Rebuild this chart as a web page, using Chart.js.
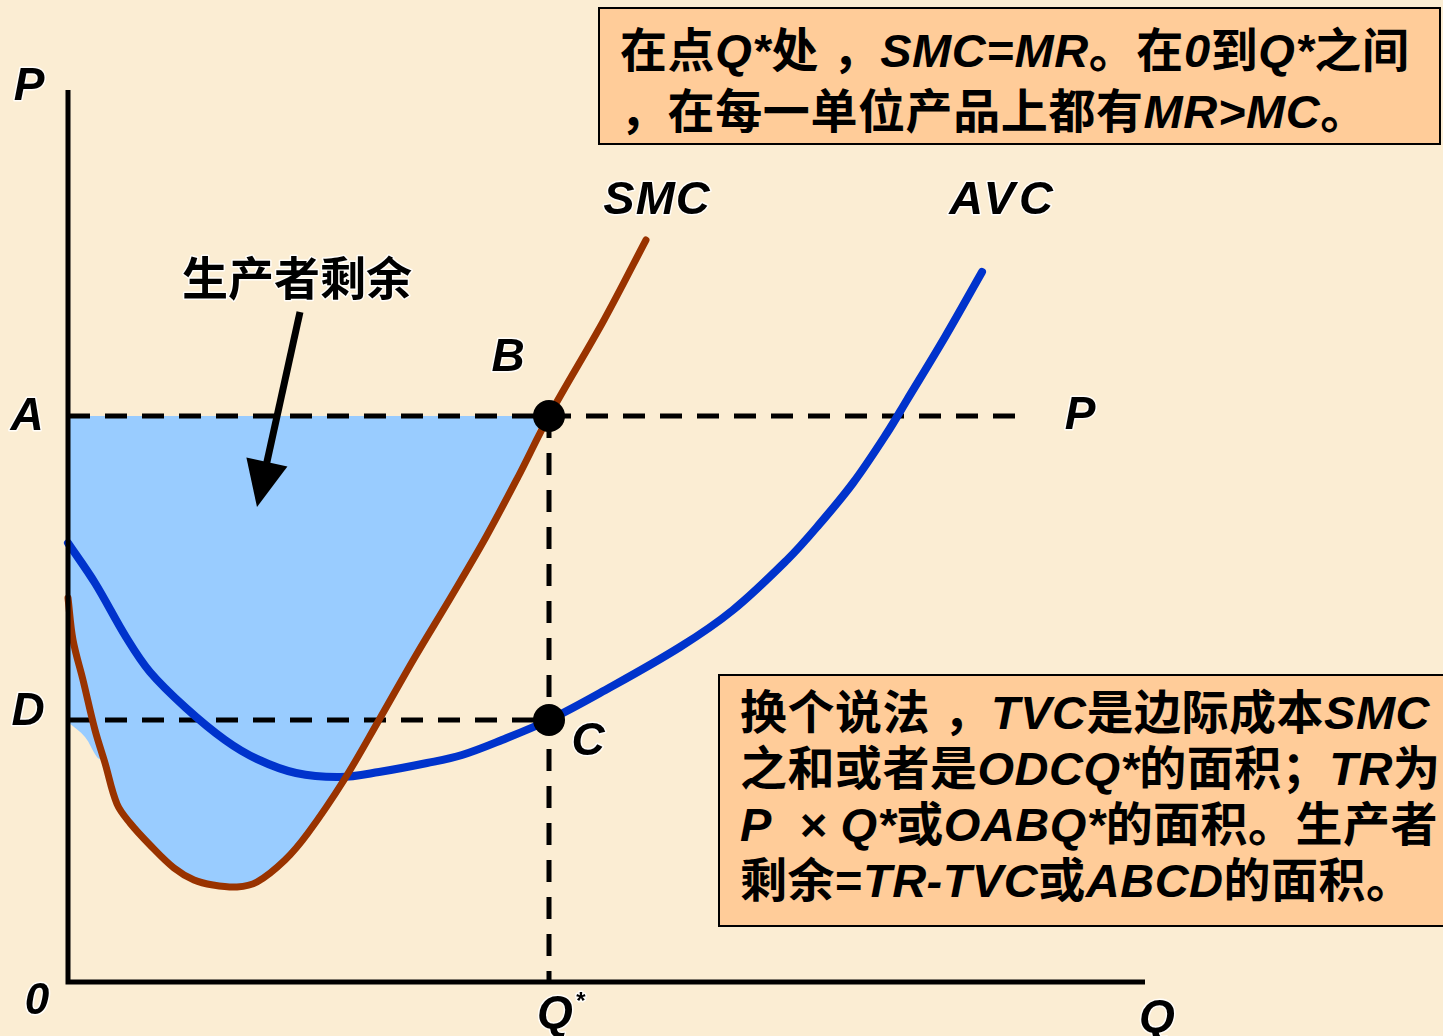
<!DOCTYPE html>
<html>
<head>
<meta charset="utf-8">
<script src="https://cdn.jsdelivr.net/npm/chart.js@4.4.1/dist/chart.umd.min.js"></script>
<style>
  html, body { margin:0; padding:0; width:1443px; height:1036px; overflow:hidden; background:#FBEDD3; }
  #wrap { position:relative; width:1443px; height:1036px; }
  canvas { position:absolute; left:0; top:0; }
  .box { position:absolute; box-sizing:border-box; background:#FFCC99; border:2px solid #000;
         font-family:"Liberation Sans","Noto Sans CJK SC",sans-serif; font-weight:700; color:#000; white-space:nowrap; }
  .box i { font-style:italic; }
  #box1 { left:598px; top:7px; width:843px; height:138px; padding:11px 0 0 20px; font-size:47px; line-height:61px; letter-spacing:0.6px; }
  #box2 { left:718px; top:674px; width:820px; height:253px; padding:9px 0 0 20px; font-size:47px; line-height:56px; letter-spacing:0.5px; }
</style>
</head>
<body>
<div id="wrap">
  <canvas id="c" width="1443" height="1036"></canvas>
  <div class="box" id="box1">在点<i>Q*</i>处 ，<i>SMC=MR</i>。在<i>0</i>到<i>Q*</i>之间<br>，在每一单位产品上都有<i>MR&gt;MC</i>。</div>
  <div class="box" id="box2">换个说法 ，<i>TVC</i>是边际成本<i>SMC</i><br>之和或者是<i>ODCQ*</i>的面积；<i>TR</i>为<br><i>P&nbsp;&nbsp;× Q*</i>或<i>OABQ*</i>的面积。生产者<br>剩余=<i>TR-TVC</i>或<i>ABCD</i>的面积。</div>
</div>
<script>
// ---- data (quantity Q on x, price/cost P on y, arbitrary units) ----
const X_MAX = 107.7;
const Y_MAX = 89.2;

const PRICE_A = 56.6;        // price level A (= P)
const COST_D = 26.2;         // AVC level D at Q*
const Q_STAR = 48.1;         // profit-maximising output
const PRICE_LINE_END = 96.0; // where the dashed P line ends

const SMC_Q = [0, 0.5, 1.5, 2.7, 3.7, 4.9, 6.2, 8.2, 10.6, 12.6, 14.5, 16.9, 18.9, 21.7, 24.0, 27.6, 31.1, 34.7, 38.3, 41.8, 45.0, 48.1, 53.6, 57.8];
const SMC_P = [38.4, 34.2, 30.2, 25.2, 21.9, 17.8, 15.9, 13.7, 11.4, 10.2, 9.7, 9.5, 10.0, 12.2, 14.9, 20.2, 26.2, 32.5, 38.5, 44.5, 50.5, 56.6, 66.2, 74.2];

const AVC_Q = [0, 2.7, 5.8, 8.2, 11.8, 15.7, 18.9, 22.8, 27.2, 31.1, 35.9, 39.4, 43.4, 48.1, 53.2, 61.2, 66.5, 71.9, 74.9, 78.5, 81.9, 83.9, 87.7, 91.4];
const AVC_P = [43.9, 39.9, 34.5, 31.0, 27.4, 24.2, 22.3, 20.9, 20.5, 21.0, 21.9, 22.7, 24.2, 26.2, 28.9, 33.5, 37.2, 42.2, 45.5, 49.9, 54.9, 58.2, 64.5, 71.0];

// lower edge of the shaded producer-surplus region (upper edge is price A)
const SURPLUS_Q = [0, 1.7, 2.9, 3.7, 4.9, 6.2, 8.2, 10.6, 12.6, 14.5, 16.9, 18.9, 21.7, 24.0, 27.6, 31.1, 34.7, 38.3, 41.8, 45.0, 47.5];
const SURPLUS_P = [26.0, 24.5, 22.5, 21.9, 17.8, 15.9, 13.7, 11.4, 10.2, 9.7, 9.5, 10.0, 12.2, 14.9, 20.2, 26.2, 32.5, 38.5, 44.5, 50.5, 56.6];

const pts = (xs, ys) => xs.map((x, i) => ({ x, y: ys[i] }));

const BROWN = '#993300';
const BLUE = '#0033CC';

const labelPlugin = {
  id: 'labels',
  afterDatasetsDraw(chart) {
    const { ctx, chartArea: ca, scales: { x, y } } = chart;
    ctx.save();
    // axes
    ctx.strokeStyle = '#000';
    ctx.lineWidth = 5;
    ctx.lineCap = 'butt';
    ctx.beginPath();
    ctx.moveTo(ca.left, ca.top);
    ctx.lineTo(ca.left, ca.bottom);
    ctx.lineTo(ca.right, ca.bottom);
    ctx.stroke();

    // arrow pointing into the surplus area
    const tx = x.getPixelForValue(23.2), ty = y.getPixelForValue(67.0);
    const hx = x.getPixelForValue(18.9), hy = y.getPixelForValue(47.5);
    const ang = Math.atan2(hy - ty, hx - tx);
    const headLen = 46, headHalf = 21;
    const bx = hx - headLen * Math.cos(ang), by = hy - headLen * Math.sin(ang);
    ctx.lineWidth = 7;
    ctx.beginPath();
    ctx.moveTo(tx, ty);
    ctx.lineTo(bx + 4 * Math.cos(ang), by + 4 * Math.sin(ang));
    ctx.stroke();
    ctx.fillStyle = '#000';
    ctx.beginPath();
    ctx.moveTo(hx, hy);
    ctx.lineTo(bx + headHalf * Math.sin(ang), by - headHalf * Math.cos(ang));
    ctx.lineTo(bx - headHalf * Math.sin(ang), by + headHalf * Math.cos(ang));
    ctx.closePath();
    ctx.fill();

    const lat = (sz) => `italic bold ${sz}px "Liberation Sans", Arial, sans-serif`;
    const txt = (t, px, py, font, spacing) => {
      ctx.font = font;
      ctx.letterSpacing = spacing || '0px';
      ctx.textAlign = 'center';
      ctx.textBaseline = 'middle';
      ctx.lineJoin = 'round';
      ctx.strokeStyle = 'rgba(255,255,255,0.85)';
      ctx.lineWidth = 3;
      ctx.strokeText(t, px, py);
      ctx.fillStyle = '#000';
      ctx.fillText(t, px, py);
    };
    const yA = y.getPixelForValue(PRICE_A), yD = y.getPixelForValue(COST_D);
    const xQ = x.getPixelForValue(Q_STAR);
    txt('P', ca.left - 39, ca.top - 3, lat(46));
    txt('A', ca.left - 41, yA + 1, lat(46));
    txt('D', ca.left - 40, yD - 8, lat(46));
    txt('B', xQ - 41, yA - 58, lat(46));
    txt('C', xQ + 39, yD + 22, lat(46));
    txt('P', x.getPixelForValue(PRICE_LINE_END) + 52, yA, lat(46));
    txt('SMC', x.getPixelForValue(58.9), y.getPixelForValue(78.1), lat(47), '1px');
    txt('AVC', x.getPixelForValue(93.5), y.getPixelForValue(78.1), lat(47), '4px');
    txt('0', ca.left - 31, ca.bottom + 20, lat(44));
    txt('Q', xQ + 6, ca.bottom + 33, lat(46));
    txt('*', xQ + 31, ca.bottom + 20, lat(24));
    txt('Q', ca.right + 12, ca.bottom + 37, lat(46));
    txt('生产者剩余', x.getPixelForValue(22.9), y.getPixelForValue(70.4), 'bold 46px "Noto Sans CJK SC", sans-serif');
    ctx.restore();
  }
};

new Chart(document.getElementById('c'), {
  type: 'scatter',
  data: {
    datasets: [
      { label: 'B/C', data: [{ x: Q_STAR, y: PRICE_A }, { x: Q_STAR, y: COST_D }],
        pointRadius: 16, pointBackgroundColor: '#000', pointBorderWidth: 0, showLine: false, order: 0, clip: false },
      { label: 'SMC', data: pts(SMC_Q, SMC_P), showLine: true, borderColor: BROWN, borderWidth: 7,
        pointRadius: 0, tension: 0.35, borderCapStyle: 'round', borderJoinStyle: 'round', order: 1, clip: false },
      { label: 'AVC', data: pts(AVC_Q, AVC_P), showLine: true, borderColor: BLUE, borderWidth: 8,
        pointRadius: 0, tension: 0.35, borderCapStyle: 'round', borderJoinStyle: 'round', order: 2, clip: false },
      { label: 'A line', data: [{ x: 0, y: PRICE_A }, { x: PRICE_LINE_END, y: PRICE_A }], showLine: true,
        borderColor: '#000', borderWidth: 5, borderDash: [22, 15], pointRadius: 0, order: 3, clip: false },
      { label: 'D line', data: [{ x: 0, y: COST_D }, { x: Q_STAR, y: COST_D }], showLine: true,
        borderColor: '#000', borderWidth: 5, borderDash: [22, 15], pointRadius: 0, order: 3, clip: false },
      { label: 'Q* line', data: [{ x: Q_STAR, y: PRICE_A }, { x: Q_STAR, y: 0 }], showLine: true,
        borderColor: '#000', borderWidth: 5, borderDash: [22, 15], pointRadius: 0, order: 3, clip: false },
      { label: 'surplus', data: pts(SURPLUS_Q, SURPLUS_P), showLine: true, borderWidth: 0, borderColor: 'rgba(0,0,0,0)',
        backgroundColor: '#99CCFF', fill: { value: PRICE_A }, pointRadius: 0, tension: 0.35, order: 4 }
    ]
  },
  options: {
    responsive: false,
    animation: false,
    devicePixelRatio: 1,
    layout: { padding: { left: 68, right: 298, top: 90, bottom: 54 } },
    scales: {
      x: { type: 'linear', min: 0, max: X_MAX, display: false },
      y: { type: 'linear', min: 0, max: Y_MAX, display: false }
    },
    plugins: { legend: { display: false }, tooltip: { enabled: false } }
  },
  plugins: [labelPlugin]
});
</script>
</body>
</html>
